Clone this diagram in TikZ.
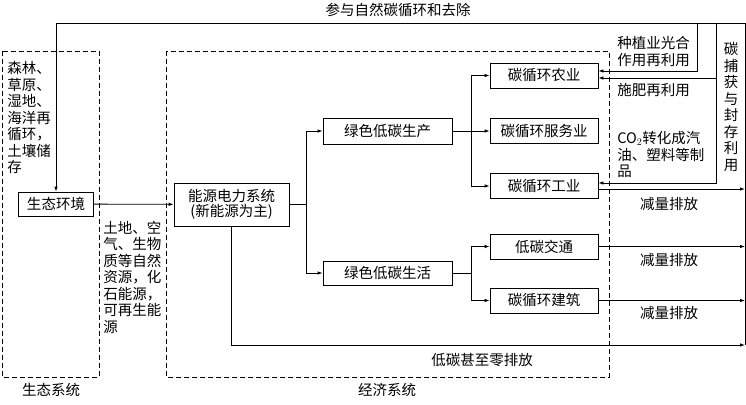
\documentclass[tikz,border=0pt]{standalone}
\usepackage{fontspec}
\setmainfont{Noto Sans CJK SC}
\usetikzlibrary{arrows.meta}

\tikzset{
  box/.style={draw, line width=0.8pt, minimum width=108pt, minimum height=25pt, inner sep=1pt},
  arr/.style={-{Latex[length=5pt,width=3.5pt]}},
  txt/.style={align=left, inner sep=0pt},
  zone/.style={draw, dash pattern=on 5pt off 3pt, line width=0.7pt},
}

\begin{document}
\begin{tikzpicture}[x=1pt,y=-1pt,line width=0.8pt,font=\fontsize{14.5}{16.5}\selectfont]
  \useasboundingbox (0,0) rectangle (746,404);
  % the two systems
  \draw[zone] (2,51) rectangle (99,377);
  \draw[zone] (166,51) rectangle (609,377);
  \node (ecosys) at (51,390) {生态系统};
  \node (econsys) at (387,390) {经济系统};

  \node[box, minimum width=75pt, minimum height=24pt] (eco) at (56,204) {生态环境};
  \node[box, minimum width=115pt, minimum height=43pt, align=center,
        font=\fontsize{14.5}{15.5}\selectfont] (energy) at (231.5,204.5) {能源电力系统\\(新能源为主)};
  \node[box, minimum width=129pt, minimum height=26pt] (prod) at (387.5,131) {绿色低碳生产};
  \node[box, minimum width=129pt, minimum height=24pt] (life) at (387.5,273) {绿色低碳生活};
  \node[box] (agri) at (544,75.5) {碳循环农业};
  \node[box] (serv) at (544,131) {碳循环服务业};
  \node[box] (ind) at (544,186) {碳循环工业};
  \node[box] (trans) at (544,246.5) {低碳交通};
  \node[box] (build) at (544,300.5) {碳循环建筑};

  \coordinate (j1) at (306,204.5);
  \coordinate (j2) at (471,131);
  \coordinate (j3) at (471,273);
  \coordinate (tr) at (745,23);
  \coordinate (br) at (745,345);
  \coordinate (f1) at (697,23);
  \coordinate (f2) at (716,23);
  \coordinate (f3) at (716,183);

  % flows
  \draw[arr] (eco) -- (energy);
  \draw (energy) -- (j1);
  \draw[arr] (j1) |- (prod);
  \draw[arr] (j1) |- (life);
  \draw (prod) -- (j2);
  \draw[arr] (j2) |- (agri);
  \draw[arr] (j2) -- (serv);
  \draw[arr] (j2) |- (ind);
  \draw (life) -- (j3);
  \draw[arr] (j3) |- (trans);
  \draw[arr] (j3) |- (build);
  % emissions
  \draw[arr] ([yshift=-3pt]ind.east) -- ([yshift=-3pt]ind.east -| br);
  \draw[arr] (trans.east) -- (trans.east -| br);
  \draw[arr] (build.east) -- (build.east -| br);
  \draw[arr] (energy.south) |- (br);
  % carbon back into the loop
  \draw (br) -- (tr);
  \draw[arr] (tr) -| (eco.north);
  \draw[arr] (f1) |- ([yshift=4.5pt]agri.east);
  \draw[arr] (f2) |- ([yshift=-2.5pt]agri.east);
  \draw[arr] (f2) -- (f3) -- ([yshift=3pt]ind.east);

  % labels
  \node (loop) at (398,10) {参与自然碳循环和去除};
  \node[txt, anchor=west] (sinks) at (7,117.5) {森林、\\草原、\\湿地、\\海洋再\\循环，\\土壤储\\存};
  \node[txt, anchor=west] (res) at (103,277) {土地、空\\气、生物\\质等自然\\资源，化\\石能源，\\可再生能\\源};
  \node[txt, anchor=west] (plant) at (617,51.5) {种植业光合\\作用再利用};
  \node[txt, anchor=west] (fert) at (617,90) {施肥再利用};
  \node[txt, anchor=west] (conv) at (617,154.5) {CO$_2$转化成汽\\油、塑料等制\\品};
  \node[txt, align=center] (ccs) at (731,107) {碳\\捕\\获\\与\\封\\存\\利\\用};
  \node (cut1) at (669,204) {减量排放};
  \node (cut2) at (669,260) {减量排放};
  \node (cut3) at (669,313) {减量排放};
  \node (zero) at (482,360) {低碳甚至零排放};
\end{tikzpicture}
\end{document}
